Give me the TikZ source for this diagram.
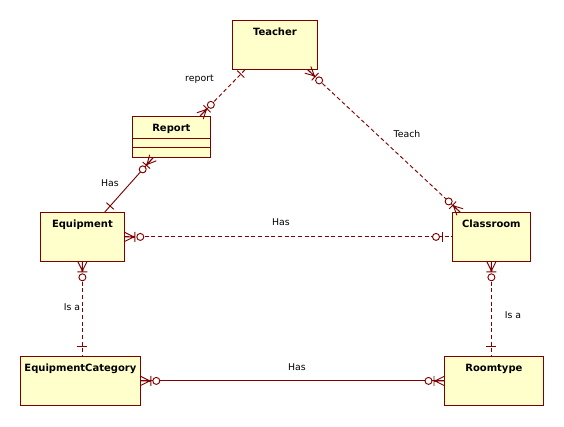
\documentclass[tikz,border=0pt]{standalone}
\usepackage{fontspec}
\setmainfont{DejaVu Sans}
\usetikzlibrary{decorations.markings, calc}

\definecolor{erline}{RGB}{128,0,0}
\definecolor{erfill}{RGB}{255,255,204}

\newcommand{\crowmark}{%
  \draw[solid] (0,4.5) -- (9,0) -- (0,-4.5) (0,0) -- (9,0) (10,5) -- (10,-5);
  \fill[erline] (9,0) circle[radius=1.2];
  \draw[solid, fill=white] (15.5,0) circle[radius=3.5];}
\newcommand{\onemark}[1]{\draw[solid] (#1,5) -- (#1,-5);}
\newcommand{\optmark}{%
  \draw[solid] (10,5) -- (10,-5);
  \draw[solid, fill=white] (16,0) circle[radius=3.5];}

\tikzset{
  entity/.style={draw=erline, fill=erfill, line width=0.6pt, anchor=north west, inner sep=0pt, minimum height=36.75pt},
  title/.style={anchor=base, yshift=-11.25pt, inner sep=0pt, font=\fontsize{7.5}{9}\selectfont\bfseries},
  lbl/.style={inner sep=0pt, font=\fontsize{7}{8}\selectfont},
  rel/.style={color=erline, line width=0.7pt},
  weak/.style={rel, dash pattern=on 3pt off 2pt},
  many start/.style={postaction={decorate, decoration={markings, mark=at position 0 with {\crowmark}}}},
  many end/.style={postaction={decorate, decoration={markings, mark=at position 1 with {\begin{scope}[xscale=-1]\crowmark\end{scope}}}}},
  one start/.style={postaction={decorate, decoration={markings, mark=at position 0 with {\onemark{#1}}}}},
  one start/.default=8,
  one end/.style={postaction={decorate, decoration={markings, mark=at position 1 with {\begin{scope}[xscale=-1]\onemark{#1}\end{scope}}}}},
  one end/.default=8,
  opt end/.style={postaction={decorate, decoration={markings, mark=at position 1 with {\begin{scope}[xscale=-1]\optmark\end{scope}}}}}
}

\begin{document}
\begin{tikzpicture}[x=0.75pt, y=-0.75pt]
  \useasboundingbox (0,0) rectangle (564,426);
  \node[entity, minimum width=63.75pt, label={[title]north:Teacher}]                   (teacher)   at (232,20)  {};
  \node[entity, minimum width=58.5pt, minimum height=30.75pt, label={[title]north:Report}] (report) at (132,116) {};
  \node[entity, minimum width=63pt,   label={[title]north:Equipment}]                  (equipment) at (40,212)  {};
  \node[entity, minimum width=58.5pt, label={[title]north:Classroom}]                  (classroom) at (452,212) {};
  \node[entity, minimum width=90pt,   label={[title]north:EquipmentCategory}]          (category)  at (20,356)  {};
  \node[entity, minimum width=74.25pt, label={[title]north:Roomtype}]                  (roomtype)  at (444,356) {};
  \draw[rel] ([yshift=-16.5pt]report.north west)  -- ([yshift=-16.5pt]report.north east);
  \draw[rel] ([yshift=-23.25pt]report.north west) -- ([yshift=-23.25pt]report.north east);
  \draw[weak, one start=6, many end] ([xshift=9.75pt]teacher.south west) -- ([xshift=51pt]report.north west);
  \draw[weak, many start, many end]  ([xshift=-7.5pt]teacher.south east) -- ([xshift=6pt]classroom.north west);
  \draw[rel, many start, one end]    ([xshift=15.75pt]report.south west) -- ([xshift=-15pt]equipment.north east);
  \draw[weak, many start, opt end]   (equipment.east)                    -- (classroom.west);
  \draw[weak, many start, one end=10] (equipment.south)                  -- (equipment.south |- category.north);
  \draw[weak, many start, one end=10] (classroom.south)                  -- (classroom.south |- roomtype.north);
  \draw[rel, many start, many end]   (category.east)                     -- (roomtype.west);
  \node[lbl] (l_report)   at (199.5,79) {report};
  \node[lbl] (l_teach)    at (407,134)  {Teach};
  \node[lbl] (l_hasrep)   at (110,183)  {Has};
  \node[lbl] (l_hasroom)  at (281,222)  {Has};
  \node[lbl] (l_isacat)   at (72,307)   {Is a};
  \node[lbl] (l_isatype)  at (513,315)  {Is a};
  \node[lbl] (l_hastype)  at (297,367)  {Has};
\end{tikzpicture}
\end{document}
